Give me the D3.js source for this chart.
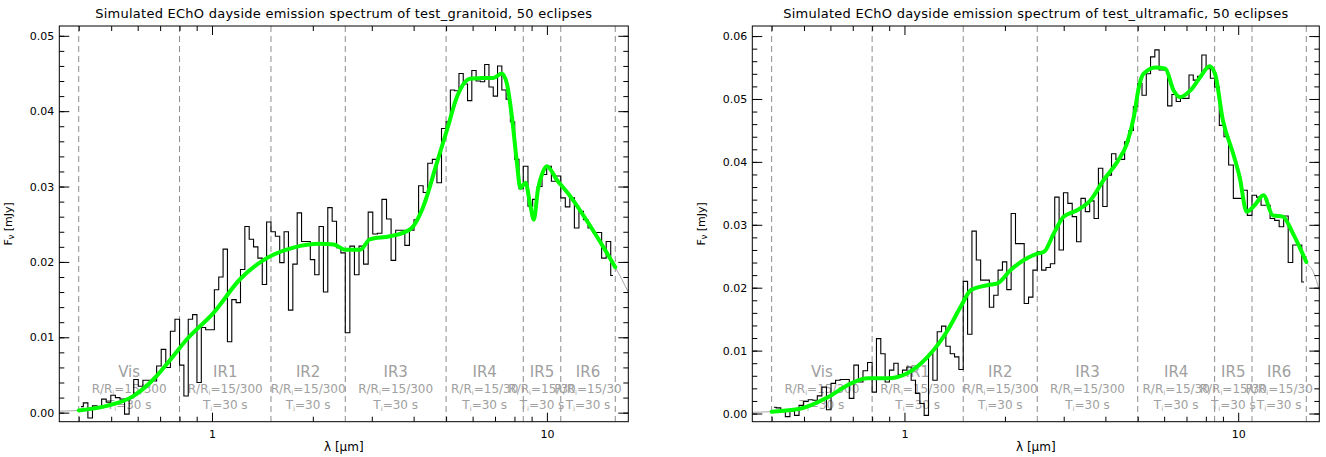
<!DOCTYPE html>
<html>
<head>
<meta charset="utf-8">
<script src="https://cdn.jsdelivr.net/npm/d3@7"></script>
<style>
  body { margin: 0; background: #fff; }
  svg text { font-family: "DejaVu Sans", sans-serif; }
</style>
</head>
<body>
<svg id="chart" width="1326" height="457"></svg>
<script>
// ---- EChO instrument channels (wavelength edges in micron) ----
const channelEdges = [0.4, 0.8, 1.5, 2.5, 5, 8.5, 11, 16];
const channelNames = ["Vis", "IR1", "IR2", "IR3", "IR4", "IR5", "IR6"];
const channelRes = ["15/300", "15/300", "15/300", "15/300", "15/30", "15/30", "15/30"];
const channelTime = "30 s";

// ---- axis ticks ----
const xDomain = [0.35, 17.5];
const xMajorTicks = [1, 10];
const xMinorTicks = [0.4, 0.5, 0.6, 0.7, 0.8, 0.9, 2, 3, 4, 5, 6, 7, 8, 9];
const granYTicks = [0, 0.01, 0.02, 0.03, 0.04, 0.05];
const ultraYTicks = [0, 0.01, 0.02, 0.03, 0.04, 0.05, 0.06];

// ---- test_granitoid: binned simulated fluxes per channel (mJy) ----
const granVis = [0.0008, 0.0013, -0.0007, 0.0009, 0.0007, 0.0018, 0.0014, 0.0023, 0.0020, 0.0018, -0.0002,
                 0.0020, 0.0044, 0.0035, 0.0043, 0.0043, 0.0042, 0.0062, 0.0084, 0.0060, 0.0108, 0.0124];
const granIR1 = [0.0063, 0.0022, 0.0124, 0.0130, 0.0040, 0.0113, 0.0110, 0.0110, 0.0163, 0.0180, 0.0217,
                 0.0094, 0.0150, 0.0146, 0.0190, 0.0247, 0.0230, 0.0220, 0.0205, 0.0170, 0.0253];
const granIR2 = [0.0240, 0.0234, 0.0199, 0.0240, 0.0136, 0.0197, 0.0265, 0.0227, 0.0227, 0.0203, 0.0183,
                 0.0247, 0.0160, 0.0272, 0.0254, 0.0219, 0.0212];
const granIR3 = [0.0106, 0.0221, 0.0183, 0.0221, 0.0197, 0.0266, 0.0237, 0.0238, 0.0283, 0.0257, 0.0202,
                 0.0242, 0.0242, 0.0222, 0.0242, 0.0256, 0.0301, 0.0292, 0.0331, 0.0336, 0.0305, 0.0377];
const granIR4 = [0.0386, 0.0428, 0.0427, 0.0450, 0.0436, 0.0414, 0.0454, 0.0440, 0.0439, 0.0462, 0.0432,
                 0.0420, 0.0460, 0.0428, 0.0416, 0.0386, 0.0336, 0.0297];
const granIR5 = [0.0327, 0.0274, 0.0283, 0.0300, 0.0316, 0.0327, 0.0307, 0.0314];
const granIR6 = [0.0285, 0.0273, 0.0285, 0.0245, 0.0267, 0.0256, 0.0245, 0.0239, 0.0239, 0.0205, 0.0227, 0.0182];

// ---- test_granitoid: model spectrum (wavelength micron, flux mJy) ----
const granModelWl = [0.35, 0.4, 0.485, 0.582, 0.668, 0.766, 0.84, 1.009, 1.212, 1.457, 1.75, 2.1, 2.31, 2.5,
                     2.77, 2.96, 3.4, 3.9, 4.28, 4.69, 5.03, 5.4, 5.9, 6.46, 6.92, 7.33, 7.59, 7.86, 8.14,
                     8.33, 8.63, 8.93, 9.14, 9.4, 9.7, 10.0, 10.7, 11.75, 13.5, 15.1, 16, 17.5];
const granModelFlux = [0.0002, 0.0003, 0.0009, 0.0022, 0.0044, 0.0075, 0.0097, 0.0132, 0.0177, 0.0205, 0.0219,
                       0.0224, 0.0223, 0.0216, 0.0216, 0.0230, 0.0234, 0.0243, 0.0274, 0.0331, 0.0375, 0.0420,
                       0.0443, 0.0444, 0.0444, 0.0450, 0.0437, 0.0393, 0.0331, 0.0298, 0.0305, 0.0274, 0.0256,
                       0.0296, 0.0318, 0.0327, 0.0309, 0.0287, 0.0247, 0.0212, 0.0193, 0.0160];

// ---- test_ultramafic: binned simulated fluxes per channel (mJy) ----
const ultraVis = [0.0010, 0.0009, 0.0004, -0.0005, 0.0004, -0.0003, 0.0013, 0.0019, 0.0022, 0.0021, 0.0028,
                  0.0042, 0.0006, 0.0048, 0.0053, 0.0054, 0.0054, 0.0024, 0.0077, 0.0050, 0.0068, 0.0081];
const ultraIR1 = [0.0034, 0.0119, 0.0095, 0.0050, 0.0069, 0.0080, 0.0062, 0.0069, 0.0074, 0.0053, 0.0032,
                  0.0016, -0.0003, 0.0095, 0.0053, 0.0130, 0.0139, 0.0107, 0.0095, 0.0090, 0.0070];
const ultraIR2 = [0.0210, 0.0126, 0.0290, 0.0244, 0.0212, 0.0212, 0.0169, 0.0188, 0.0228, 0.0241, 0.0197,
                  0.0318, 0.0270, 0.0270, 0.0175, 0.0185, 0.0228];
const ultraIR3 = [0.0257, 0.0228, 0.0232, 0.0238, 0.0344, 0.0260, 0.0351, 0.0334, 0.0313, 0.0273, 0.0342,
                  0.0321, 0.0338, 0.0310, 0.0390, 0.0329, 0.0379, 0.0413, 0.0404, 0.0404, 0.0432, 0.0450, 0.0488];
const ultraIR4 = [0.0525, 0.0506, 0.0540, 0.0567, 0.0578, 0.0546, 0.0546, 0.0489, 0.0507, 0.0496, 0.0501,
                  0.0501, 0.0538, 0.0530, 0.0536, 0.0570, 0.0548, 0.0533];
const ultraIR5 = [0.0519, 0.0458, 0.0440, 0.0395, 0.0342, 0.0342, 0.0355, 0.0315];
const ultraIR6 = [0.0347, 0.0344, 0.0331, 0.0331, 0.0310, 0.0307, 0.0297, 0.0314, 0.0240, 0.0268, 0.0268, 0.0209];

// ---- test_ultramafic: model spectrum ----
const ultraModelWl = [0.35, 0.4, 0.49, 0.59, 0.692, 0.776, 0.891, 1.02, 1.173, 1.346, 1.475, 1.58, 1.77, 1.9,
                      2.08, 2.28, 2.5, 2.62, 2.8, 3.0, 3.29, 3.61, 3.95, 4.34, 4.64, 4.87, 5.04, 5.2, 5.66,
                      6.05, 6.4, 6.7, 7.2, 7.7, 8.2, 8.52, 9.0, 9.66, 10.1, 10.6, 11.2, 11.9, 12.7, 13.6,
                      14.6, 15.6, 16, 16.8, 17.5];
const ultraModelFlux = [0.0002, 0.0003, 0.0008, 0.0026, 0.0048, 0.0056, 0.0056, 0.0064, 0.0090, 0.0132, 0.0170,
                        0.0196, 0.0204, 0.0207, 0.0228, 0.0244, 0.0254, 0.0257, 0.0286, 0.0313, 0.0323, 0.0339,
                        0.0371, 0.0400, 0.0429, 0.0472, 0.0519, 0.0540, 0.0550, 0.0548, 0.0514, 0.0503, 0.0514,
                        0.0535, 0.0552, 0.0540, 0.0466, 0.0413, 0.0376, 0.0321, 0.0331, 0.0347, 0.0315, 0.0313,
                        0.0286, 0.0254, 0.0241, 0.0225, 0.0196];

const panels = [
  {
    title: "Simulated EChO dayside emission spectrum of test_granitoid, 50 eclipses",
    bins: [granVis, granIR1, granIR2, granIR3, granIR4, granIR5, granIR6],
    modelWl: granModelWl, modelFlux: granModelFlux,
    yTicks: granYTicks, yDomain: [-0.0012, 0.0513],
    x0: 59.3, x1: 628.3
  },
  {
    title: "Simulated EChO dayside emission spectrum of test_ultramafic, 50 eclipses",
    bins: [ultraVis, ultraIR1, ultraIR2, ultraIR3, ultraIR4, ultraIR5, ultraIR6],
    modelWl: ultraModelWl, modelFlux: ultraModelFlux,
    yTicks: ultraYTicks, yDomain: [-0.0013, 0.0616],
    x0: 752.3, x1: 1319.3
  }
];

const plotTop = 26, plotBottom = 421.7;
const svg = d3.select("#chart");
const labelGray = "#a0a0a0";

function drawPanel(p) {
  const g = svg.append("g");
  const x = d3.scaleLog().domain(xDomain).range([p.x0, p.x1]);
  const y = d3.scaleLinear().domain(p.yDomain).range([plotBottom, plotTop]);
  const cx = (p.x0 + p.x1) / 2;

  // title
  g.append("text").attr("x", cx).attr("y", 18).attr("text-anchor", "middle")
    .attr("font-size", 13).attr("letter-spacing", 0.25).text(p.title);

  // channel boundaries
  g.selectAll("line.chan").data(channelEdges).join("line")
    .attr("class", "chan")
    .attr("x1", d => x(d)).attr("x2", d => x(d))
    .attr("y1", plotTop).attr("y2", plotBottom)
    .attr("stroke", "#8c8c8c").attr("stroke-width", 1)
    .attr("stroke-dasharray", "6,4");

  // channel annotations
  channelNames.forEach((name, i) => {
    const mx = x(Math.sqrt(channelEdges[i] * channelEdges[i + 1]));
    g.append("text").attr("x", mx).attr("y", 377).attr("text-anchor", "middle")
      .attr("font-size", 15).attr("fill", labelGray).text(name);
    const r = g.append("text").attr("x", mx).attr("y", 393).attr("text-anchor", "middle")
      .attr("font-size", 12).attr("fill", labelGray);
    r.append("tspan").text("R/R");
    r.append("tspan").attr("font-size", 7).attr("dy", 2).text("i");
    r.append("tspan").attr("dy", -2).text("=" + channelRes[i]);
    const t = g.append("text").attr("x", mx).attr("y", 409).attr("text-anchor", "middle")
      .attr("font-size", 12).attr("fill", labelGray);
    t.append("tspan").text("T");
    t.append("tspan").attr("font-size", 7).attr("dy", 2).text("i");
    t.append("tspan").attr("dy", -2).text("=" + channelTime);
  });

  // high-resolution model (thin grey)
  const model = p.modelWl.map((w, i) => [w, p.modelFlux[i]]);
  const line = d3.line().x(d => x(d[0])).y(d => y(d[1])).curve(d3.curveMonotoneX);
  g.append("path").datum(model).attr("d", line)
    .attr("fill", "none").attr("stroke", "#a8a8a8").attr("stroke-width", 1);

  // binned data as a histogram (steps centred on the bins)
  const bins = [];
  p.bins.forEach((vals, c) => {
    const lo = Math.log10(channelEdges[c]), hi = Math.log10(channelEdges[c + 1]);
    const w = (hi - lo) / vals.length;
    vals.forEach((v, k) => bins.push({ a: lo + k * w, b: lo + (k + 1) * w, v: v }));
  });
  const pts = [];
  bins.forEach((bn, k) => {
    const start = k === 0 ? (bn.a + bn.b) / 2 : bn.a;
    const end = k === bins.length - 1 ? (bn.a + bn.b) / 2 : bn.b;
    pts.push([Math.pow(10, start), bn.v], [Math.pow(10, end), bn.v]);
  });
  g.append("path").datum(pts)
    .attr("d", d3.line().x(d => x(d[0])).y(d => y(d[1])))
    .attr("fill", "none").attr("stroke", "#000").attr("stroke-width", 1.1);

  // model binned within the instrument range (thick green)
  const inRange = model.filter(d => d[0] >= channelEdges[0] && d[0] <= channelEdges[channelEdges.length - 1]);
  g.append("path").datum(inRange).attr("d", line)
    .attr("fill", "none").attr("stroke", "#00ff00").attr("stroke-width", 4)
    .attr("stroke-linejoin", "round").attr("stroke-linecap", "round");

  // frame
  g.append("rect").attr("x", p.x0).attr("y", plotTop)
    .attr("width", p.x1 - p.x0).attr("height", plotBottom - plotTop)
    .attr("fill", "none").attr("stroke", "#000").attr("stroke-width", 1);

  const styleAxis = sel => {
    sel.select(".domain").remove();
    sel.attr("font-family", null).attr("font-size", 11);
    sel.selectAll("line").attr("stroke", "#000");
  };

  // y axes: majors with labels, minors every 0.002
  const yMinor = d3.range(0, p.yTicks[p.yTicks.length - 1] + 1e-9, 0.002);
  g.append("g").attr("transform", `translate(${p.x0},0)`)
    .call(d3.axisLeft(y).tickValues(p.yTicks).tickSizeInner(-10).tickSizeOuter(0)
      .tickPadding(5).tickFormat(d3.format(".2f")))
    .call(styleAxis);
  g.append("g").attr("transform", `translate(${p.x0},0)`)
    .call(d3.axisLeft(y).tickValues(yMinor).tickSizeInner(-5).tickSizeOuter(0).tickFormat(""))
    .call(styleAxis);
  g.append("g").attr("transform", `translate(${p.x1},0)`)
    .call(d3.axisRight(y).tickValues(p.yTicks).tickSizeInner(-10).tickSizeOuter(0).tickFormat(""))
    .call(styleAxis);
  g.append("g").attr("transform", `translate(${p.x1},0)`)
    .call(d3.axisRight(y).tickValues(yMinor).tickSizeInner(-5).tickSizeOuter(0).tickFormat(""))
    .call(styleAxis);

  // x axes: bottom with labels, top mirrored
  g.append("g").attr("transform", `translate(0,${plotBottom})`)
    .call(d3.axisBottom(x).tickValues(xMajorTicks).tickSizeInner(-9).tickSizeOuter(0)
      .tickPadding(9).tickFormat(d3.format("d")))
    .call(styleAxis);
  g.append("g").attr("transform", `translate(0,${plotBottom})`)
    .call(d3.axisBottom(x).tickValues(xMinorTicks).tickSizeInner(-5).tickSizeOuter(0).tickFormat(""))
    .call(styleAxis);
  g.append("g").attr("transform", `translate(0,${plotTop})`)
    .call(d3.axisTop(x).tickValues(xMajorTicks).tickSizeInner(-9).tickSizeOuter(0).tickFormat(""))
    .call(styleAxis);
  g.append("g").attr("transform", `translate(0,${plotTop})`)
    .call(d3.axisTop(x).tickValues(xMinorTicks).tickSizeInner(-5).tickSizeOuter(0).tickFormat(""))
    .call(styleAxis);

  // axis titles
  const xl = g.append("text").attr("x", cx).attr("y", 451).attr("text-anchor", "middle")
    .attr("font-size", 12);
  xl.text("λ [μm]");
  const yl = g.append("text")
    .attr("transform", `translate(${p.x0 - 47},${(plotTop + plotBottom) / 2}) rotate(-90)`)
    .attr("text-anchor", "middle").attr("font-size", 11);
  yl.append("tspan").text("F");
  yl.append("tspan").attr("font-size", 8).attr("dy", 2).text("ν");
  yl.append("tspan").attr("dy", -2).text(" [mJy]");
}

panels.forEach(drawPanel);
</script>
</body>
</html>
